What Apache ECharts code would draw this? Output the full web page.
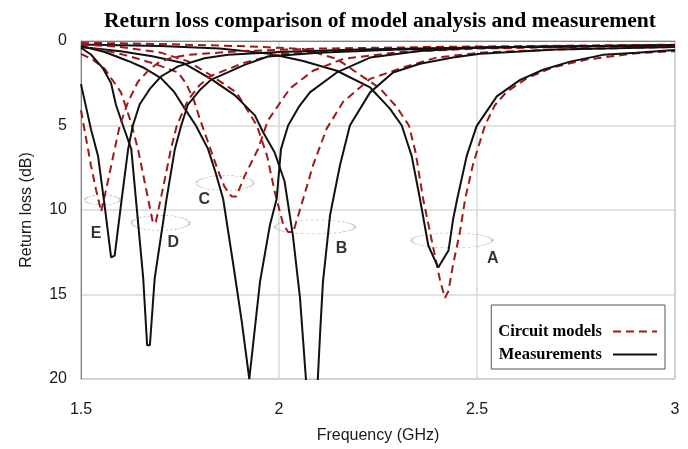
<!DOCTYPE html>
<html lang="en">
<head>
    <meta charset="UTF-8">
    <title>Return loss comparison</title>
    <script src="https://cdn.jsdelivr.net/npm/echarts@6/dist/echarts.min.js"></script>
</head>
<style>
    html, body { margin: 0; padding: 0; background: #fff; }
    #main { width: 688px; height: 449px; }
</style>
<body>
<div id="main"></div>
<script>
    // [frequency GHz, return loss dB]
    var modelA = [[1.500,0.1],[1.700,0.18],[1.900,0.3],[2.000,0.4],[2.061,0.47],[2.146,1.06],[2.196,1.86],[2.255,2.8],[2.297,3.9],[2.328,5.0],[2.345,6.6],[2.364,9.35],[2.407,14.2],[2.419,15.2],[2.428,14.8],[2.439,13.3],[2.457,11.3],[2.470,9.35],[2.490,7.3],[2.520,5.0],[2.545,3.8],[2.575,3.0],[2.626,2.2],[2.692,1.55],[2.777,1.1],[2.903,0.72],[3.000,0.6]];
    var measA = [[1.500,0.2],[1.700,0.3],[1.850,0.45],[1.977,0.76],[2.061,1.18],[2.146,1.76],[2.230,2.75],[2.280,4.0],[2.310,5.0],[2.335,6.8],[2.356,9.35],[2.377,12.1],[2.402,13.4],[2.428,12.4],[2.440,10.5],[2.450,9.35],[2.474,6.8],[2.499,5.04],[2.550,3.28],[2.609,2.3],[2.667,1.7],[2.735,1.22],[2.818,0.82],[2.903,0.69],[3.000,0.53]];
    var modelB = [[1.500,0.2],[1.600,0.35],[1.702,0.69],[1.770,1.2],[1.833,2.1],[1.893,3.06],[1.944,5.0],[1.970,6.8],[1.990,9.0],[2.010,10.8],[2.023,11.3],[2.036,11.3],[2.061,9.35],[2.086,7.35],[2.120,5.2],[2.162,3.6],[2.230,2.24],[2.313,1.57],[2.398,0.98],[2.508,0.69],[2.700,0.5],[3.000,0.35]];
    var measB = [[1.500,0.35],[1.600,0.6],[1.680,0.9],[1.758,1.3],[1.828,2.24],[1.888,3.2],[1.939,4.4],[1.960,5.4],[1.989,6.6],[2.014,8.3],[2.035,11.5],[2.053,15.2],[2.068,20],[2.083,23],[2.098,20],[2.104,17.2],[2.111,14.25],[2.129,10.3],[2.137,9.35],[2.154,7.35],[2.179,5.0],[2.230,3.04],[2.288,1.86],[2.356,1.35],[2.439,0.98],[2.508,0.76],[2.700,0.5],[3.000,0.35]];
    var modelC = [[1.500,0.35],[1.560,0.55],[1.619,0.88],[1.686,1.35],[1.745,1.86],[1.765,2.5],[1.785,3.5],[1.800,4.6],[1.815,5.6],[1.830,6.6],[1.845,7.6],[1.862,8.6],[1.880,9.2],[1.892,9.2],[1.913,8.0],[1.947,6.4],[1.972,4.7],[2.028,2.8],[2.086,1.76],[2.162,1.06],[2.306,0.65],[2.500,0.45],[2.800,0.33],[3.000,0.28]];
    var measC = [[1.500,0.3],[1.560,0.65],[1.619,1.18],[1.660,1.6],[1.702,2.2],[1.735,3.0],[1.762,4.0],[1.790,5.0],[1.821,6.4],[1.840,7.8],[1.859,9.35],[1.885,13.3],[1.906,16.6],[1.925,20],[1.952,14.25],[1.977,10.9],[1.994,9.35],[2.005,6.4],[2.023,5.0],[2.050,3.9],[2.078,3.04],[2.146,1.86],[2.230,0.98],[2.356,0.59],[2.508,0.39],[2.800,0.3],[3.000,0.25]];
    var modelD = [[1.500,0.76],[1.530,1.1],[1.560,1.65],[1.601,3.04],[1.626,4.8],[1.644,6.4],[1.663,8.6],[1.682,10.8],[1.689,10.7],[1.708,8.6],[1.727,6.4],[1.742,5.0],[1.770,3.5],[1.800,2.6],[1.828,2.06],[1.913,1.28],[1.997,0.78],[2.200,0.55],[2.500,0.4],[2.800,0.3],[3.000,0.26]];
    var measD = [[1.500,0.4],[1.525,0.8],[1.555,1.6],[1.576,2.5],[1.588,3.76],[1.606,5.0],[1.627,6.4],[1.657,14.0],[1.667,18.0],[1.674,18.0],[1.686,14.06],[1.716,9.35],[1.737,6.4],[1.753,5.0],[1.770,3.76],[1.800,2.9],[1.828,2.3],[1.913,1.41],[1.972,0.92],[2.100,0.7],[2.300,0.5],[2.600,0.35],[3.000,0.25]];
    var modelE = [[1.500,4.1],[1.525,7.35],[1.538,8.8],[1.551,10.1],[1.568,8.3],[1.585,6.4],[1.598,5.0],[1.619,3.6],[1.644,2.4],[1.668,1.8],[1.694,1.3],[1.727,1.0],[1.770,0.82],[1.900,0.6],[2.100,0.45],[2.400,0.35],[2.700,0.28],[3.000,0.22]];
    var measE = [[1.500,2.55],[1.525,5.2],[1.543,6.8],[1.560,9.8],[1.576,12.8],[1.585,12.7],[1.602,9.5],[1.619,6.4],[1.631,5.0],[1.648,3.76],[1.675,2.8],[1.702,2.1],[1.745,1.5],[1.812,1.02],[1.871,0.82],[2.000,0.65],[2.200,0.5],[2.500,0.38],[2.800,0.3],[3.000,0.25]];

    var letters = ['A', 'B', 'C', 'D', 'E'];
    var letterPos = [[2.540,12.9],[2.158,12.3],[1.811,9.4],[1.733,11.9],[1.538,11.4]];
    var ringPos = [[2.437,11.8],[2.091,11.0],[1.864,8.4],[1.701,10.76],[1.554,9.4]];
    var ringSize = [[81,15],[80,14],[57,15],[58,15],[35,10]];

    var models = [modelA, modelB, modelC, modelD, modelE];
    var meas = [measA, measB, measC, measD, measE];

    var myChart = echarts.init(document.getElementById('main'));

    var series = [];
    for (var i = 0; i < models.length; i++) {
        series.push({
            name: 'Circuit models', type: 'line', data: models[i], symbol: 'none',
            lineStyle: {color: '#9e1a1a', width: 2, type: [8, 5]}, itemStyle: {color: '#9e1a1a'}
        });
        series.push({
            name: 'Measurements', type: 'line', data: meas[i], symbol: 'none',
            lineStyle: {color: '#111', width: 2}, itemStyle: {color: '#111'}
        });
    }
    // dotted rings round the model dips
    series.push({
        type: 'scatter', silent: true, z: 1,
        data: ringPos,
        symbol: 'circle',
        symbolSize: function (v, p) { return ringSize[p.dataIndex]; },
        itemStyle: {color: 'rgba(0,0,0,0)', borderColor: '#999', borderWidth: 1.2, borderType: 'dotted'}
    });
    series.push({
        type: 'scatter', silent: true, z: 5,
        data: letterPos.map(function (p, k) { return [p[0], p[1], letters[k]]; }),
        symbolSize: 1,
        itemStyle: {color: 'rgba(0,0,0,0)'},
        label: {
            show: true, position: 'inside', formatter: function (p) { return p.value[2]; },
            fontFamily: 'Liberation Sans', fontWeight: 'bold', fontSize: 16, color: '#000'
        }
    });

    var option = {
        animation: false,
        title: {
            text: 'Return loss comparison of model analysis and measurement',
            left: 375, top: 5, textAlign: 'center',
            textStyle: {fontFamily: 'Liberation Serif', fontWeight: 'bold', fontSize: 21.6, color: '#000'}
        },
        grid: {left: 81, right: 13, top: 41, bottom: 68, show: true, borderColor: '#808080', borderWidth: 1},
        legend: {
            data: ['Circuit models', 'Measurements'],
            orient: 'vertical', right: 23, top: 305, align: 'right',
            itemWidth: 44, itemHeight: 14, itemGap: 4,
            padding: [17, 7, 5, 7],
            borderColor: '#555', borderWidth: 1, backgroundColor: '#fff',
            itemStyle: {opacity: 0},
            textStyle: {fontFamily: 'Liberation Serif', fontWeight: 'bold', fontSize: 16.5, color: '#000',
                lineHeight: 19, padding: [0, 6, 0, 0]}
        },
        xAxis: {
            type: 'value', min: 1.5, max: 3, interval: 0.5,
            name: 'Frequency (GHz)', nameLocation: 'middle', nameGap: 49,
            nameTextStyle: {fontFamily: 'Liberation Sans', fontSize: 16, color: '#1a1a1a'},
            axisLine: {lineStyle: {color: '#808080'}},
            axisTick: {show: false},
            axisLabel: {fontFamily: 'Liberation Sans', fontSize: 16, color: '#1a1a1a', margin: 23},
            splitLine: {lineStyle: {color: '#d9d9d9', width: 1.5}}
        },
        yAxis: {
            type: 'value', inverse: true, min: 0, max: 20, interval: 5,
            name: 'Return loss (dB)', nameLocation: 'middle', nameGap: 46,
            nameTextStyle: {fontFamily: 'Liberation Sans', fontSize: 16, color: '#1a1a1a'},
            axisLine: {show: true, lineStyle: {color: '#808080'}},
            axisTick: {show: false},
            axisLabel: {fontFamily: 'Liberation Sans', fontSize: 16, color: '#1a1a1a', margin: 14, padding: [6, 0, 0, 0]},
            splitLine: {lineStyle: {color: '#d9d9d9', width: 1.5}}
        },
        series: series
    };
    myChart.setOption(option);
</script>
</body>
</html>
